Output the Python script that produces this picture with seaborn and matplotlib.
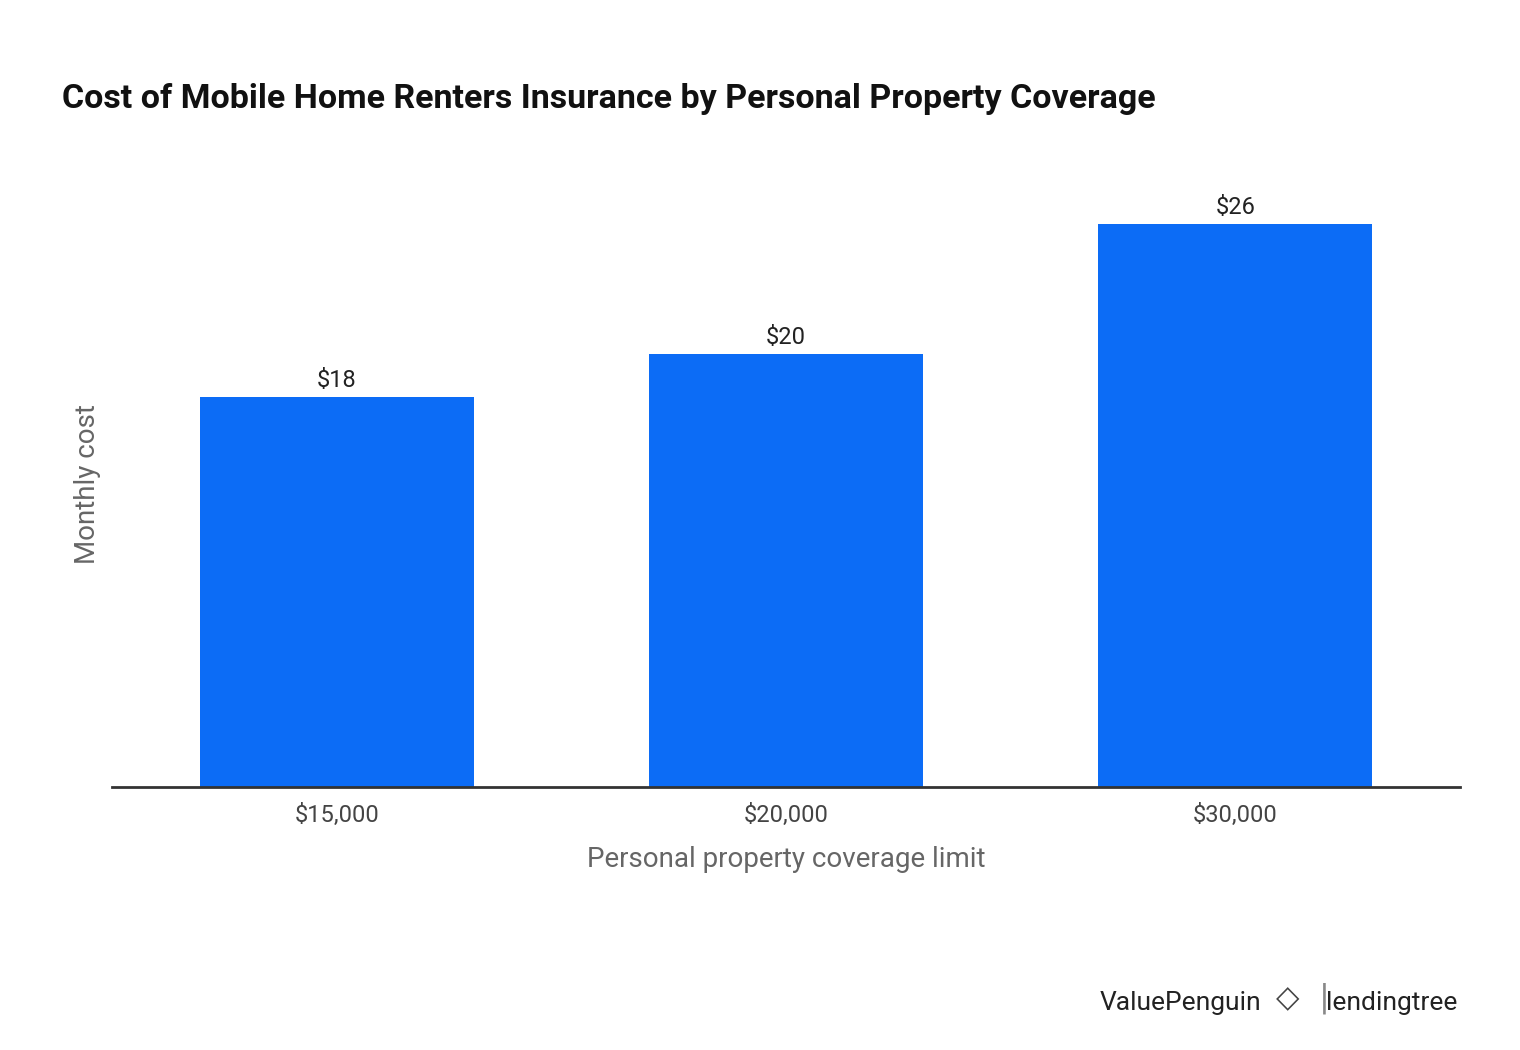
import matplotlib
matplotlib.use("Agg")
import seaborn as sns
import pandas as pd
from matplotlib import pyplot as plt

# data
coverage = ["$15,000", "$20,000", "$30,000"]
monthly_cost = [18, 20, 26]
labels = ["$18", "$20", "$26"]

df = pd.DataFrame({"coverage": coverage, "cost": monthly_cost})

plt.rcParams["font.family"] = "Roboto"
fig = plt.figure(figsize=(15.2, 10.5), dpi=100)
ax = fig.add_axes([0.0737, 0.2505, 0.8868, 0.5771])

sns.barplot(data=df, x="coverage", y="cost", color="#0c6cf6", saturation=1,
            width=0.61, ax=ax)
ax.set_xlim(-0.5, 2.5)
ax.set_ylim(0, 28)

for i, (v, t) in enumerate(zip(monthly_cost, labels)):
    ax.text(i, v + 0.25, t, ha="center", va="bottom", fontsize=17, color="#222222")

for s in ["top", "right", "left"]:
    ax.spines[s].set_visible(False)
ax.spines["bottom"].set_color("#333333")
ax.spines["bottom"].set_linewidth(2)
ax.set_yticks([])
ax.tick_params(axis="x", length=0, labelsize=17, labelcolor="#444444", pad=12)
ax.set_xlabel("Personal property coverage limit", fontsize=20, color="#666666", labelpad=14)
ax.set_ylabel("Monthly cost", fontsize=20, color="#666666")
ax.yaxis.set_label_coords(-0.008, 0.5)

fig.text(0.041, 0.906, "Cost of Mobile Home Renters Insurance by Personal Property Coverage",
         fontsize=24.5, fontweight="bold", color="#111111", va="center")

fig.text(0.83, 0.045, "ValuePenguin", fontsize=19, color="#222222", ha="right", va="center")
fig.text(0.847, 0.049, "◇", fontsize=22, color="#444444", ha="center", va="center",
         fontfamily="DejaVu Sans")
fig.text(0.871, 0.049, "|", fontsize=26, color="#888888", ha="center", va="center")
fig.text(0.959, 0.045, "lendingtree", fontsize=19, color="#222222", ha="right", va="center")

fig.savefig("out.png", dpi=100)
